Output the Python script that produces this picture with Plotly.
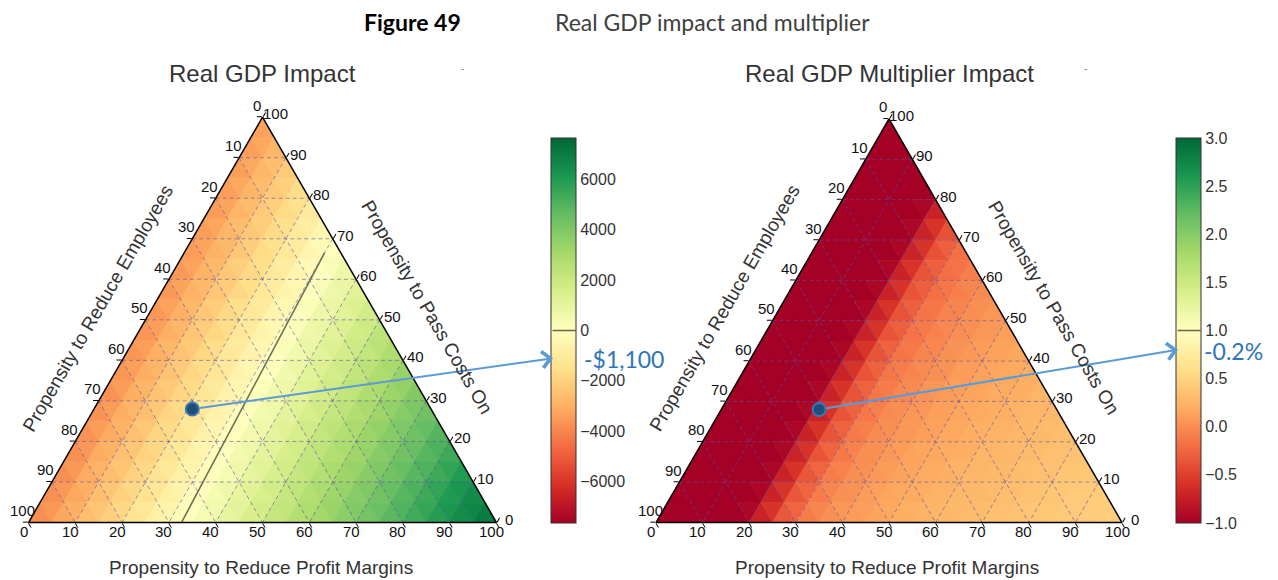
import math
import plotly.graph_objects as go
from plotly.colors import sample_colorscale

# page is 1278x580; the HTML body has an 8px margin, so the figure is drawn 8px in
OFF = 8
FIG_W, FIG_H = 1270, 572

# ------------------------------------------------------------------ data
STEP = 5  # grid step (percent) of the value tables
# rows: Propensity to Pass Costs On = 0, 5, ..., 100
# columns: Propensity to Reduce Profit Margins = 0, 5, ... (Reduce Employees = remainder)
gdp_impact = [
    [-4000, -3400, -2800, -2200, -1600, -1000, -400, 200, 750, 1310, 1860, 2420, 2970, 3530, 4080, 4640, 5190, 5750, 6300, 6860, 7400],
    [-3980, -3380, -2780, -2180, -1580, -980, -380, 220, 770, 1330, 1880, 2440, 2990, 3550, 4100, 4660, 5210, 5770, 6320, 6880],
    [-3950, -3350, -2750, -2150, -1550, -950, -350, 250, 800, 1360, 1910, 2470, 3020, 3580, 4130, 4690, 5240, 5800, 6350],
    [-3930, -3330, -2730, -2130, -1530, -930, -330, 270, 820, 1380, 1930, 2490, 3040, 3600, 4150, 4710, 5260, 5820],
    [-3910, -3310, -2710, -2110, -1510, -910, -310, 290, 840, 1400, 1950, 2510, 3060, 3620, 4170, 4730, 5280],
    [-3880, -3280, -2680, -2080, -1480, -880, -280, 320, 870, 1430, 1980, 2540, 3090, 3650, 4200, 4760],
    [-3860, -3260, -2660, -2060, -1460, -860, -260, 340, 890, 1450, 2000, 2560, 3110, 3670, 4220],
    [-3840, -3240, -2640, -2040, -1440, -840, -240, 360, 910, 1470, 2020, 2580, 3130, 3690],
    [-3820, -3220, -2620, -2020, -1420, -820, -220, 380, 930, 1490, 2040, 2600, 3150],
    [-3790, -3190, -2590, -1990, -1390, -790, -190, 410, 960, 1520, 2070, 2630],
    [-3770, -3170, -2570, -1970, -1370, -770, -170, 430, 980, 1540, 2090],
    [-3750, -3150, -2550, -1950, -1350, -750, -150, 450, 1000, 1560],
    [-3720, -3120, -2520, -1920, -1320, -720, -120, 480, 1030],
    [-3700, -3100, -2500, -1900, -1300, -700, -100, 500],
    [-3680, -3080, -2480, -1880, -1280, -680, -80],
    [-3650, -3050, -2450, -1850, -1250, -650],
    [-3630, -3030, -2430, -1830, -1230],
    [-3610, -3010, -2410, -1810],
    [-3590, -2990, -2390],
    [-3560, -2960],
    [-3540],
]

multiplier_impact = [
    [-1.5, -1.45, -1.35, -1.15, -0.85, -0.45, -0.15, 0.00, 0.08, 0.14, 0.19, 0.23, 0.27, 0.30, 0.33, 0.36, 0.39, 0.42, 0.44, 0.46, 0.48],
    [-1.5, -1.45, -1.35, -1.15, -0.85, -0.45, -0.16, -0.01, 0.07, 0.13, 0.18, 0.22, 0.26, 0.29, 0.32, 0.35, 0.38, 0.41, 0.43, 0.45],
    [-1.5, -1.45, -1.35, -1.15, -0.85, -0.45, -0.16, -0.02, 0.06, 0.12, 0.17, 0.21, 0.25, 0.28, 0.31, 0.34, 0.37, 0.40, 0.42],
    [-1.5, -1.45, -1.35, -1.15, -0.85, -0.45, -0.17, -0.03, 0.05, 0.11, 0.16, 0.20, 0.24, 0.27, 0.30, 0.33, 0.36, 0.39],
    [-1.5, -1.45, -1.35, -1.15, -0.85, -0.45, -0.17, -0.04, 0.04, 0.10, 0.15, 0.19, 0.23, 0.26, 0.29, 0.32, 0.35],
    [-1.5, -1.45, -1.35, -1.15, -0.85, -0.45, -0.18, -0.05, 0.03, 0.09, 0.14, 0.18, 0.22, 0.25, 0.28, 0.31],
    [-1.5, -1.45, -1.35, -1.15, -0.85, -0.45, -0.18, -0.06, 0.02, 0.08, 0.13, 0.17, 0.21, 0.24, 0.27],
    [-1.5, -1.45, -1.35, -1.15, -0.85, -0.45, -0.19, -0.07, 0.01, 0.07, 0.12, 0.16, 0.20, 0.23],
    [-1.5, -1.45, -1.35, -1.15, -0.85, -0.45, -0.19, -0.08, 0.00, 0.06, 0.11, 0.15, 0.19],
    [-1.5, -1.45, -1.35, -1.15, -0.85, -0.45, -0.20, -0.09, -0.01, 0.05, 0.10, 0.14],
    [-1.5, -1.45, -1.35, -1.15, -0.85, -0.45, -0.20, -0.10, -0.02, 0.04, 0.09],
    [-1.5, -1.45, -1.35, -1.15, -0.85, -0.45, -0.21, -0.11, -0.03, 0.03],
    [-1.5, -1.45, -1.35, -1.15, -0.85, -0.45, -0.21, -0.12, -0.04],
    [-1.5, -1.45, -1.35, -1.15, -0.85, -0.45, -0.22, -0.13],
    [-1.5, -1.45, -1.35, -1.15, -0.85, -0.45, -0.22],
    [-1.5, -1.45, -1.35, -1.15, -0.85, -0.45],
    [-1.5, -1.45, -1.35, -1.15, -0.85],
    [-1.5, -1.45, -1.35, -1.15],
    [-1.5, -1.45, -1.35],
    [-1.5, -1.45],
    [-1.5],
]

gdp_range = [-7650, 7650]
mult_range = [-1.0, 3.0]
gdp_cbar_ticks = [-6000, -4000, -2000, 0, 2000, 4000, 6000]
gdp_cbar_labels = ["\u22126000", "\u22124000", "\u22122000", "0", "2000", "4000", "6000"]
mult_cbar_ticks = [-1.0, -0.5, 0.0, 0.5, 1.0, 1.5, 2.0, 2.5, 3.0]
mult_cbar_labels = ["\u22121.0", "\u22120.5", "0.0", "0.5", "1.0", "1.5", "2.0", "2.5", "3.0"]
gdp_level = 0
mult_level = 1.0

axis_ticks = [0, 10, 20, 30, 40, 50, 60, 70, 80, 90, 100]

# zero contour of the GDP impact surface
contour_pass = [0.0, 66.5]
contour_margins = [32.7, 30.0]

# highlighted scenario
scenario_pass, scenario_employees, scenario_margins = 28, 51, 21
gdp_callout_value, gdp_callout_text = -1100, "-$1,100"
mult_callout_value, mult_callout_text = 0.8, "-0.2%"

fig_title_bold = "Figure 49"
fig_title = "Real GDP impact and multiplier"
panel_titles = ["Real GDP Impact", "Real GDP Multiplier Impact"]
title_employees = "Propensity to Reduce Employees"
title_pass = "Propensity to Pass Costs On"
title_margins = "Propensity to Reduce Profit Margins"

# ------------------------------------------------------------------ style
RDYLGN = ['rgb(165,0,38)', 'rgb(215,48,39)', 'rgb(244,109,67)', 'rgb(253,174,97)',
          'rgb(254,224,139)', 'rgb(255,255,191)', 'rgb(217,239,139)', 'rgb(166,217,106)',
          'rgb(102,189,99)', 'rgb(26,152,80)', 'rgb(0,104,55)']
CSCALE = [[i / 10, c] for i, c in enumerate(RDYLGN)]
FONT = "Liberation Sans, Arial, sans-serif"
CFONT = "Lato, Open Sans, sans-serif"
TXT = "#333333"
GRID = "rgba(95,80,170,0.6)"
ARROW = "#5b9bd5"
CALLOUT = "#2e75b6"
NQ = 220

for tbl in (gdp_impact, multiplier_impact):
    for i, row in enumerate(tbl):
        assert len(row) == len(tbl) - i, (i, len(row))


def P(x, y):
    """page pixel -> paper coordinates"""
    return (x - OFF) / FIG_W, 1 - (y - OFF) / FIG_H


panels = [
    dict(sub="ternary", table=gdp_impact, rng=gdp_range, cx=262.5, width=468, bottom=522.5,
         cb_left=551, cb_top=138, cb_bottom=523, ticks=gdp_cbar_ticks, labels=gdp_cbar_labels,
         level=gdp_level, cval=gdp_callout_value, ctext=gdp_callout_text, ctext_dx=32,
         title=panel_titles[0]),
    dict(sub="ternary2", table=multiplier_impact, rng=mult_range, cx=889, width=466, bottom=522.5,
         cb_left=1176, cb_top=138, cb_bottom=523, ticks=mult_cbar_ticks, labels=mult_cbar_labels,
         level=mult_level, cval=mult_callout_value, ctext=mult_callout_text, ctext_dx=27,
         title=panel_titles[1]),
]

fig = go.Figure()
annotations = []
layout_ternary = {}


def vert(i, j):
    a = i * STEP
    c = j * STEP
    return (a, 100 - a - c, c)


for pn in panels:
    sub = pn["sub"]
    tbl = pn["table"]
    lo, hi = pn["rng"]
    n = len(tbl) - 1
    groups = {}

    def add(vs, vals):
        v = sum(vals) / 3.0
        t = min(max((v - lo) / (hi - lo), 0.0), 1.0)
        groups.setdefault(round(t * NQ), []).append(vs)

    for i in range(n):
        for j in range(n - i):
            add([vert(i, j), vert(i, j + 1), vert(i + 1, j)],
                [tbl[i][j], tbl[i][j + 1], tbl[i + 1][j]])
            if j < n - i - 1:
                add([vert(i, j + 1), vert(i + 1, j + 1), vert(i + 1, j)],
                    [tbl[i][j + 1], tbl[i + 1][j + 1], tbl[i + 1][j]])

    for k in sorted(groups):
        color = sample_colorscale(CSCALE, [k / NQ])[0]
        A, B, C = [], [], []
        for poly in groups[k]:
            for (a, b, c) in poly + [poly[0]]:
                A.append(a); B.append(b); C.append(c)
            A.append(None); B.append(None); C.append(None)
        fig.add_trace(go.Scatterternary(a=A, b=B, c=C, mode="lines", fill="toself",
                                        fillcolor=color, line=dict(color=color, width=0.8),
                                        hoverinfo="skip", showlegend=False, subplot=sub))

    # dashed grid
    A, B, C = [], [], []
    for v in axis_ticks[1:-1]:
        for p0, p1 in [((v, 100 - v, 0), (v, 0, 100 - v)),
                       ((100 - v, v, 0), (0, v, 100 - v)),
                       ((100 - v, 0, v), (0, 100 - v, v))]:
            for p in (p0, p1):
                A.append(p[0]); B.append(p[1]); C.append(p[2])
            A.append(None); B.append(None); C.append(None)
    fig.add_trace(go.Scatterternary(a=A, b=B, c=C, mode="lines",
                                    line=dict(color=GRID, width=1, dash="4px,3px"),
                                    hoverinfo="skip", showlegend=False, subplot=sub))

    # zero contour (GDP panel)
    if sub == "ternary":
        fig.add_trace(go.Scatterternary(
            a=contour_pass, c=contour_margins,
            b=[100 - a - c for a, c in zip(contour_pass, contour_margins)],
            mode="lines", line=dict(color="#6e6e55", width=1.6),
            hoverinfo="skip", showlegend=False, subplot=sub))

    # colour bar carrier
    cb_len = pn["cb_bottom"] - pn["cb_top"]
    cbx, cby = P(pn["cb_left"], pn["cb_top"] + cb_len / 2)
    fig.add_trace(go.Scatterternary(
        a=[scenario_pass] * 2, b=[scenario_employees] * 2, c=[scenario_margins] * 2,
        mode="markers", hoverinfo="skip", showlegend=False, subplot=sub,
        marker=dict(size=1, opacity=0, color=pn["rng"], colorscale=CSCALE,
                    cmin=lo, cmax=hi, showscale=True,
                    colorbar=dict(x=cbx, xanchor="left", xpad=0, ypad=0,
                                  y=cby, yanchor="middle",
                                  len=cb_len / FIG_H, lenmode="fraction",
                                  thickness=25, thicknessmode="pixels",
                                  outlinewidth=1, outlinecolor="#333333",
                                  tickmode="array", tickvals=pn["ticks"], ticktext=pn["labels"],
                                  ticks="", tickfont=dict(family=FONT, size=16, color=TXT)))))

    # scenario dot
    fig.add_trace(go.Scatterternary(
        a=[scenario_pass], b=[scenario_employees], c=[scenario_margins], mode="markers",
        marker=dict(size=13, color="#1f4e79", line=dict(color="#3a78b5", width=2)),
        hoverinfo="skip", showlegend=False, subplot=sub))

    # geometry of the triangle (page pixels)
    w = pn["width"]
    h = w * math.sqrt(3) / 2
    x0 = pn["cx"] - w / 2
    bot = pn["bottom"]
    dx0, dy0 = P(x0, bot)
    dx1, dy1 = P(x0 + w, bot - h)
    layout_ternary[sub] = dict(domain=dict(x=[dx0, dx1], y=[dy0, dy1]), sum=100, bgcolor="white")

    def tpx(a, c):
        return x0 + w * (c + a / 2) / 100, bot - h * a / 100

    # tick labels (left edge: employees, right edge: pass costs, bottom: margins)
    tfont = dict(family=FONT, size=15, color="#111111")
    for k in axis_ticks:
        for (px, py), (ox, oy) in [(tpx(100 - k, 0), (-6, -12)),
                                   (tpx(k, 100 - k), (12.5, -3.5)),
                                   (tpx(0, k), (-5, 9))]:
            xx, yy = P(px + ox, py + oy)
            annotations.append(dict(x=xx, y=yy, xref="paper", yref="paper", text=str(k),
                                    showarrow=False, xanchor="center", yanchor="middle",
                                    borderpad=0, font=tfont))

    # level line on the colour bar (drawn as an arrow-less annotation line, above the bar)
    frac = (pn["level"] - lo) / (hi - lo)
    ly = pn["cb_bottom"] - frac * cb_len
    lx, lyp = P(pn["cb_left"] + 25, ly)
    annotations.append(dict(x=lx, y=lyp, xref="paper", yref="paper", text="", showarrow=True,
                            ax=-25, ay=0, axref="pixel", ayref="pixel", arrowhead=0,
                            arrowwidth=1.5, arrowcolor="#6e6440", standoff=0, startstandoff=0))

    # callout arrow from the scenario dot to the colour bar
    dot_x, dot_y = tpx(scenario_pass, scenario_margins)
    cfrac = (pn["cval"] - lo) / (hi - lo)
    head_x = pn["cb_left"] + 2
    head_y = pn["cb_bottom"] - cfrac * cb_len
    hx, hy = P(head_x, head_y)
    annotations.append(dict(x=hx, y=hy, xref="paper", yref="paper", text="", showarrow=True,
                            ax=dot_x - head_x, ay=dot_y - head_y, axref="pixel", ayref="pixel",
                            arrowhead=4, arrowsize=1.6, arrowwidth=2, arrowcolor=ARROW,
                            startstandoff=6, standoff=0))
    tx, ty = P(pn["cb_left"] + pn["ctext_dx"], head_y + 1)
    annotations.append(dict(x=tx, y=ty, xref="paper", yref="paper", text=pn["ctext"],
                            showarrow=False, xanchor="left", yanchor="middle", borderpad=0,
                            font=dict(family=CFONT, size=23, color=CALLOUT)))

    # titles
    cx = pn["cx"]
    for text, px, py, ang, size in [
        (pn["title"], cx, 73, 0, 24),
        (title_employees, cx - 165, 308, -60, 19),
        (title_pass, cx + 165, 307, 60, 19),
        (title_margins, cx - 2, 567, 0, 19),
    ]:
        xx, yy = P(px, py)
        annotations.append(dict(x=xx, y=yy, xref="paper", yref="paper", text=text,
                                showarrow=False, textangle=ang, xanchor="center", yanchor="middle",
                                font=dict(family=FONT, size=size, color=TXT)))
    xx, yy = P(cx + 200, 61)
    annotations.append(dict(x=xx, y=yy, xref="paper", yref="paper", text="-", showarrow=False,
                            font=dict(family=FONT, size=10, color="#888888")))

xx, yy = P(363, 22)
annotations.append(dict(x=xx, y=yy, xref="paper", yref="paper", text="<b>" + fig_title_bold + "</b>",
                        showarrow=False, xanchor="left", yanchor="middle", borderpad=0,
                        font=dict(family=CFONT, size=23, color="#000000")))
xx, yy = P(554, 22)
annotations.append(dict(x=xx, y=yy, xref="paper", yref="paper", text=fig_title,
                        showarrow=False, xanchor="left", yanchor="middle", borderpad=0,
                        font=dict(family=CFONT, size=23, color="#404040")))

axis_common = dict(showgrid=False, showticklabels=False, ticks="outside", ticklen=5,
                   tickwidth=1, tickcolor="black", tickmode="linear", tick0=0, dtick=10,
                   showline=True, linecolor="black", linewidth=1.5, layer="above traces",
                   title=dict(text=""), min=0)
for sub, cfg in layout_ternary.items():
    cfg.update(aaxis=axis_common, baxis=axis_common, caxis=axis_common)

fig.update_layout(width=FIG_W, height=FIG_H, margin=dict(l=0, r=0, t=0, b=0),
                  paper_bgcolor="white", plot_bgcolor="white", showlegend=False,
                  hovermode=False, annotations=annotations,
                  **layout_ternary)

fig.write_html("out.html")
